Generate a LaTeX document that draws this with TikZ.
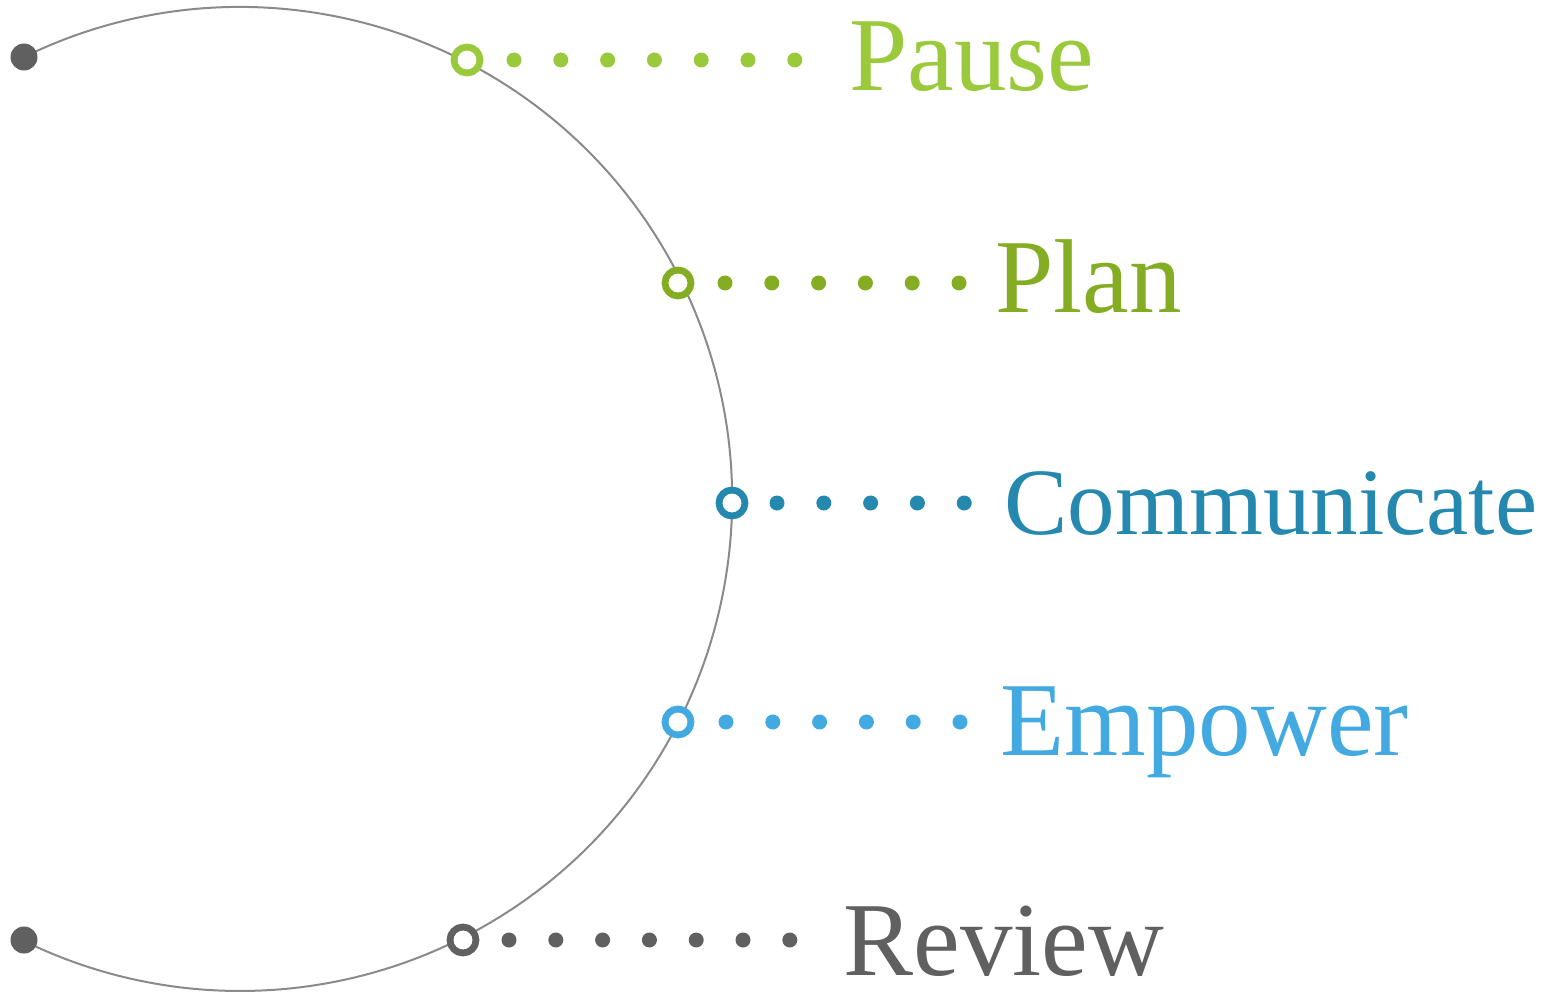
\documentclass[tikz,border=0pt]{standalone}
\usepackage{fontspec}
\setmainfont{Liberation Serif}
\usetikzlibrary{calc}
\definecolor{pausec}{HTML}{9ACA3C}
\definecolor{planc}{HTML}{84AD24}
\definecolor{commc}{HTML}{2589AF}
\definecolor{empc}{HTML}{42AAE1}
\definecolor{revc}{HTML}{606060}
\definecolor{arcc}{HTML}{8A8A8A}
\begin{document}
\begin{tikzpicture}[x=0.5pt,y=0.5pt,
  ring/.style={circle,draw=#1,line width=3.4pt,fill=white,minimum size=13pt,inner sep=0pt},
  endpt/.style={circle,fill=revc,minimum size=13.5pt,inner sep=0pt},
  dotrow/.style={draw=#1,line width=7.5pt,line cap=round,dash pattern=on 0pt off 23.4pt},
  label/.style={anchor=base west,inner sep=0pt,text=#1},
  big/.style={font=\fontsize{52.5}{52.5}\selectfont},
  mid/.style={font=\fontsize{47.5}{47.5}\selectfont}]
\useasboundingbox (0,0) rectangle (1560,-995);
% arc
\draw[arcc,line width=1pt] (24,-57) arc[start angle=116.05,end angle=-116.05,radius=246pt];
\node[endpt] (e1) at (24,-57) {};
\node[endpt] (e2) at (24,-940) {};
% rings
\node[ring=pausec] (r1) at (467,-60) {};
\node[ring=planc] (r2) at (678,-283) {};
\node[ring=commc] (r3) at (732,-503) {};
\node[ring=empc] (r4) at (678,-722) {};
\node[ring=revc] (r5) at (463,-940) {};
% labels
\node[label=pausec,big] (t1) at (849,-91) {Pause};
\node[label=planc,big] (t2) at (995,-312) {Plan};
\node[label=commc,mid] (t3) at (1004,-534) {Communicate};
\node[label=empc,big] (t4) at (1000,-755) {Empower};
\node[label=revc,big] (t5) at (843,-975) {Review};
% dotted connectors
\coordinate (a1) at ($(r1)+(47,0)$);   \coordinate (b1) at ($(a1)+(6*46.8+1,0)$);
\coordinate (a2) at ($(r2)+(47,0)$);   \coordinate (b2) at ($(a2)+(5*46.8+1,0)$);
\coordinate (a3) at ($(r3)+(45,0)$);   \coordinate (b3) at ($(a3)+(4*46.8+1,0)$);
\coordinate (a4) at ($(r4)+(48,0)$);   \coordinate (b4) at ($(a4)+(5*46.8+1,0)$);
\coordinate (a5) at ($(r5)+(46,0)$);   \coordinate (b5) at ($(a5)+(6*46.8+1,0)$);
\draw[dotrow=pausec] (a1) -- (b1);
\draw[dotrow=planc] (a2) -- (b2);
\draw[dotrow=commc] (a3) -- (b3);
\draw[dotrow=empc] (a4) -- (b4);
\draw[dotrow=revc] (a5) -- (b5);
\end{tikzpicture}
\end{document}
